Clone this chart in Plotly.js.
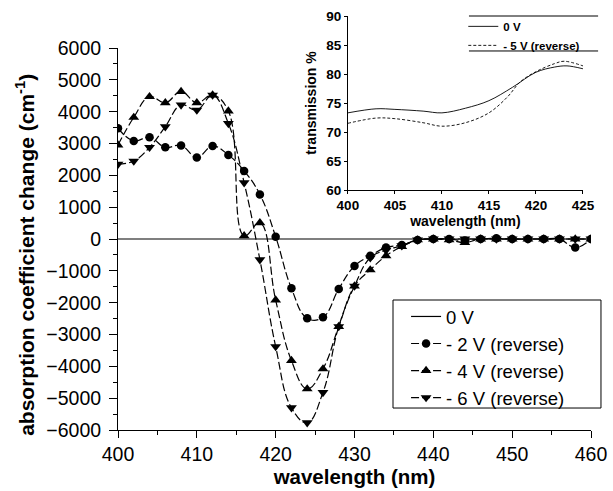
<!DOCTYPE html>
<html><head><meta charset="utf-8">
<script src="https://cdn.plot.ly/plotly-3.0.1.min.js"></script>
<style>body{margin:0;background:#fff}</style>
</head><body>
<div id="chart" style="width:613px;height:491px"></div>
<script>
const wavelength = [400,402,404,406,408,410,412,414,416,418,420,422,424,426,428,430,432,434,436,438,440,442,444,446,448,450,452,454,456,458,460];
const zeroV = wavelength.map(() => 0);
const minus2V = [3480,3080,3200,2880,2940,2560,2920,2640,2140,1400,70,-1550,-2490,-2460,-1570,-850,-530,-270,-190,-30,0,0,-50,0,20,0,0,0,0,-270,0];
const minus4V = [2950,3820,4470,4280,4630,4280,4520,4020,100,510,-1920,-3820,-4710,-4080,-2750,-1480,-970,-530,-240,-30,0,-30,-110,0,0,0,0,0,0,0,0];
const minus6V = [2350,2450,2880,3530,4210,4050,4520,3630,1770,-650,-3380,-5300,-5770,-4820,-2750,-1480,-590,-350,-210,-30,0,0,0,0,0,0,0,0,0,0,0];
const seriesNames = ["0 V","- 2 V (reverse)","- 4 V (reverse)","- 6 V (reverse)"];

const insetX0 = [400,403,405,408,410,412.5,415,417.5,420,422,423.3,425];
const insetT0 = [73.3,74.0,73.9,73.6,73.3,74.1,75.4,77.7,80.3,81.2,81.4,80.9];
const insetX5 = [400,403,405,408,410,412.5,415,417,418.3,420,422,423,425];
const insetT5 = [71.5,72.4,72.3,71.6,71.0,71.6,73.3,76.1,78.6,80.4,81.8,82.2,81.4];
const insetNames = ["0 V","- 5 V (reverse)"];

const F = "Liberation Sans, Arial, sans-serif";
const dash = "8px,3px";
const traces = [
  {x: wavelength, y: zeroV, name: seriesNames[0], mode: "lines", line: {color: "#000", width: 1.2}},
  {x: wavelength, y: minus2V, name: seriesNames[1], mode: "lines+markers", line: {color: "#000", width: 1.2, dash: dash, shape: "spline", smoothing: 1.2}, marker: {symbol: "circle", size: 8.5, color: "#000"}},
  {x: wavelength, y: minus4V, name: seriesNames[2], mode: "lines+markers", line: {color: "#000", width: 1.2, dash: dash, shape: "spline", smoothing: 1.2}, marker: {symbol: "triangle-up", size: 9.5, color: "#000"}},
  {x: wavelength, y: minus6V, name: seriesNames[3], mode: "lines+markers", line: {color: "#000", width: 1.2, dash: dash, shape: "spline", smoothing: 1.2}, marker: {symbol: "triangle-down", size: 9.5, color: "#000"}},
  {x: insetX0, y: insetT0, name: insetNames[0], xaxis: "x2", yaxis: "y2", legend: "legend2", mode: "lines", line: {color: "#000", width: 0.9, shape: "spline"}},
  {x: insetX5, y: insetT5, name: insetNames[1], xaxis: "x2", yaxis: "y2", legend: "legend2", mode: "lines", line: {color: "#000", width: 0.9, dash: "3px,2px", shape: "spline"}}
];

const layout = {
  width: 613, height: 491,
  margin: {l: 118, r: 22, t: 16, b: 61},
  paper_bgcolor: "#fff", plot_bgcolor: "rgba(0,0,0,0)",
  font: {family: F, color: "#000", size: 19},
  showlegend: true,
  xaxis: {
    range: [400, 460], domain: [0, 1], anchor: "y",
    tickvals: [400,410,420,430,440,450,460],
    ticks: "outside", ticklen: 7, tickwidth: 1, tickcolor: "#000",
    minor: {dtick: 5, ticks: "outside", ticklen: 4, tickcolor: "#000"},
    showline: true, linecolor: "#000", linewidth: 1, showgrid: false, zeroline: false,
    tickfont: {size: 19.5, family: F},
    title: {text: "wavelength (nm)", font: {size: 20.5, family: F, weight: "bold"}, standoff: 3}
  },
  yaxis: {
    range: [-6000, 6000], domain: [0, 0.9227], anchor: "x",
    dtick: 1000, tick0: 0,
    ticks: "outside", ticklen: 8, tickwidth: 1, tickcolor: "#000",
    minor: {dtick: 500, ticks: "outside", ticklen: 4, tickcolor: "#000"},
    showline: true, linecolor: "#000", linewidth: 1, showgrid: false, zeroline: false,
    ticklabelstandoff: 4,
    tickfont: {size: 19.5, family: F}
  },
  xaxis2: {
    range: [400, 425], domain: [0.486, 0.983], anchor: "y2",
    dtick: 5, ticks: "outside", ticklen: 3, tickcolor: "#000",
    showline: true, linecolor: "#000", linewidth: 1, showgrid: false, zeroline: false,
    tickfont: {size: 13.5, family: F, weight: "bold"},
    title: {text: "wavelength (nm)", font: {size: 14, family: F, weight: "bold"}, standoff: 2}
  },
  yaxis2: {
    range: [60, 90], domain: [0.5797, 1], anchor: "x2",
    dtick: 5, ticks: "outside", ticklen: 3, tickcolor: "#000",
    showline: true, linecolor: "#000", linewidth: 1, showgrid: false, zeroline: false,
    tickfont: {size: 13.5, family: F, weight: "bold"},
    title: {text: "transmission %", font: {size: 14, family: F, weight: "bold"}, standoff: 6}
  },
  legend: {
    x: 0.609, y: 0.319, xanchor: "left", yanchor: "top",
    bgcolor: "rgba(0,0,0,0)", borderwidth: 0,
    font: {size: 18.5, family: F}, tracegroupgap: 0, itemwidth: 30
  },
  legend2: {
    x: 0.73, y: 1.01, xanchor: "left", yanchor: "top",
    bgcolor: "rgba(0,0,0,0)", borderwidth: 0,
    font: {size: 11.5, family: F, weight: "bold"}, tracegroupgap: 0
  },
  annotations: [
    {text: "absorption coefficient change (cm<sup>-1</sup>)", textangle: -90, xref: "paper", yref: "paper",
     x: -0.197, y: 0.4227, xanchor: "center", yanchor: "middle", showarrow: false,
     font: {size: 21, family: F, weight: "bold"}}
  ],
  shapes: [
    {type: "rect", xref: "paper", yref: "paper", x0: 0.5814, x1: 1.0211, y0: 0.0531, y1: 0.314, line: {color: "#000", width: 1}},
    {type: "line", xref: "paper", yref: "paper", x0: 0.742, x1: 1.015, y0: 1, y1: 1, line: {color: "#000", width: 1}},
    {type: "line", xref: "paper", yref: "paper", x0: 0.742, x1: 1.015, y0: 0.9155, y1: 0.9155, line: {color: "#000", width: 1}}
  ]
};
Plotly.newPlot("chart", traces, layout, {staticPlot: true, displayModeBar: false});
</script>
</body></html>
